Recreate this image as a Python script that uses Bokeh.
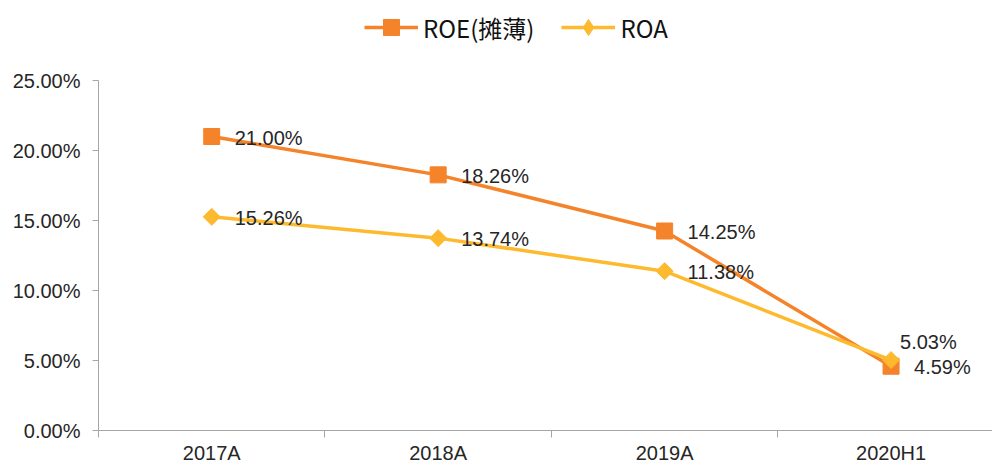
import math
from bokeh.plotting import figure
from bokeh.models import ColumnDataSource, FixedTicker, Legend, LegendItem
from bokeh.core.properties import value
from bokeh.embed import file_html
from bokeh.resources import INLINE

categories = ["2017A", "2018A", "2019A", "2020H1"]
roe = [21.00, 18.26, 14.25, 4.59]
roa = [15.26, 13.74, 11.38, 5.03]
series_names = ["ROE(摊薄)", "ROA"]
y_ticks = [0, 5, 10, 15, 20, 25]
y_tick_labels = ["0.00%", "5.00%", "10.00%", "15.00%", "20.00%", "25.00%"]

ORANGE = "#F4832A"
YELLOW = "#FDBA2F"
TEXT = "#262626"
AXIS = "#A6A6A6"
FONT = "Liberation Sans"
LFONT = "'Noto Sans CJK SC', 'Noto Sans', sans-serif"

xs = list(range(len(categories)))
y_axis_max = y_ticks[-1]

p = figure(frame_width=894, frame_height=430, output_backend="svg", toolbar_location=None,
           x_range=(-0.5, 3.448), y_range=(0, y_axis_max * 430 / 350),
           min_border_left=98, min_border_right=0, min_border_top=0, min_border_bottom=36)
p.outline_line_color = None
p.grid.visible = False
p.background_fill_color = "white"

# axes
p.xaxis.ticker = FixedTicker(ticks=xs, minor_ticks=[x - 0.5 for x in xs])
p.xaxis.major_label_overrides = {i: c for i, c in enumerate(categories)}
p.xaxis.major_tick_out = 0
p.xaxis.major_tick_in = 0
p.xaxis.minor_tick_out = 7
p.xaxis.minor_tick_in = 0
p.xaxis.minor_tick_line_color = AXIS
p.xaxis.axis_line_color = AXIS
p.xaxis.major_label_standoff = 4
p.xaxis.major_label_text_font = FONT
p.xaxis.major_label_text_font_size = "20px"
p.xaxis.major_label_text_color = TEXT

p.yaxis.ticker = FixedTicker(ticks=y_ticks, minor_ticks=[])
p.yaxis.bounds = (0, y_axis_max)
p.yaxis.major_label_overrides = {t: l for t, l in zip(y_ticks, y_tick_labels)}
p.yaxis.major_tick_out = 6
p.yaxis.major_tick_in = 0
p.yaxis.major_tick_line_color = AXIS
p.yaxis.axis_line_color = AXIS
p.yaxis.major_label_standoff = 12
p.yaxis.major_label_text_font = FONT
p.yaxis.major_label_text_font_size = "20px"
p.yaxis.major_label_text_color = TEXT

# series
l1 = p.line(xs, roe, line_color=ORANGE, line_width=3.5)
m1 = p.scatter(xs, roe, marker="square", size=16, fill_color=ORANGE, line_color=ORANGE)
l2 = p.line(xs, roa, line_color=YELLOW, line_width=3.5)
m2 = p.scatter(xs, roa, marker="square", angle=math.pi / 4, size=12,
               fill_color=YELLOW, line_color=YELLOW)
# legend-only diamond (legend glyphs ignore marker angle); zero size on the plot
m2_leg = p.scatter(xs, roa, marker="diamond", size=0, fill_color=YELLOW,
                   line_color=YELLOW, line_width=1)

# data labels
lab_x = xs + xs
lab_y = roe + roa
lab_t = [f"{v:.2f}%" for v in lab_y]
x_off = [23, 23, 23, 23, 23, 23, 23, 9]
y_off = [1, 1, 1, 1, 1, 1, 1, -18]
src = ColumnDataSource(dict(x=lab_x, y=lab_y, t=lab_t, xo=x_off, yo=y_off))
p.text(x="x", y="y", text="t", x_offset="xo", y_offset="yo", source=src,
       text_font=value(FONT), text_font_size="20px", text_color=TEXT,
       text_baseline="middle", text_align="left")

legend = Legend(items=[LegendItem(label=series_names[0], renderers=[l1, m1]),
                       LegendItem(label=series_names[1], renderers=[l2, m2_leg])],
                orientation="horizontal", location=(266, 383),
                glyph_width=54, glyph_height=40, label_standoff=5, spacing=27,
                padding=0, margin=0, border_line_color=None, background_fill_alpha=0,
                label_text_font=LFONT, label_text_font_size="24px", label_text_color="#111111")
p.add_layout(legend, "center")

open("out.html", "w").write(file_html(p, INLINE))
